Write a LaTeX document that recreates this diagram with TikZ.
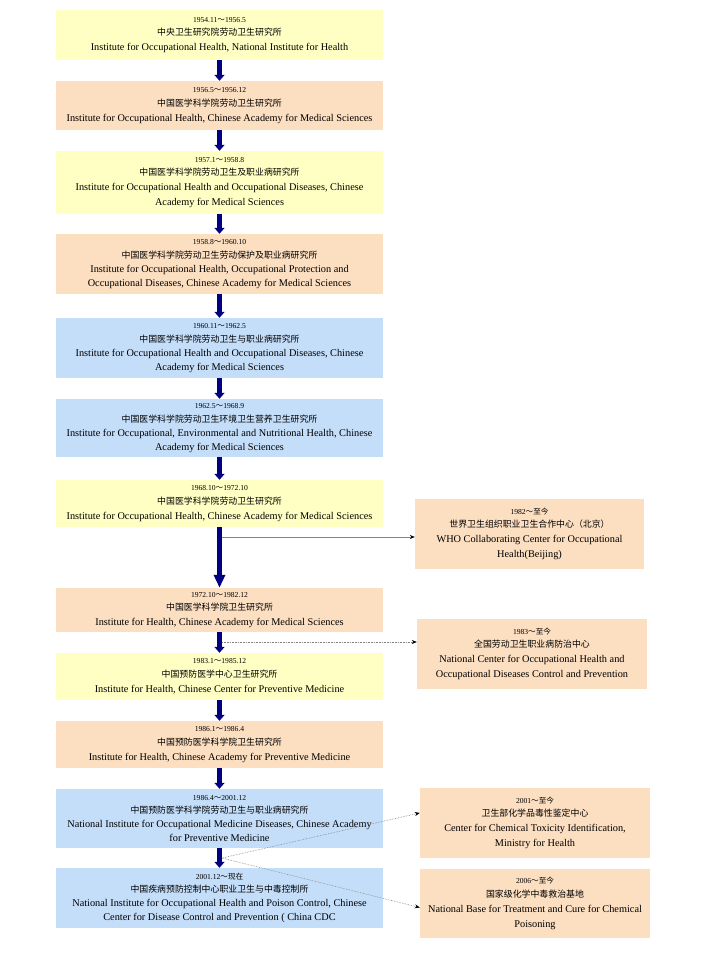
\documentclass[tikz,border=0pt]{standalone}
\usepackage{fontspec}
\setmainfont{Liberation Serif}
\newfontfamily\cjk{Noto Sans CJK SC}
\usetikzlibrary{arrows.meta}
\definecolor{byellow}{RGB}{255,255,196}
\definecolor{bpeach}{RGB}{252,222,192}
\definecolor{bblue}{RGB}{196,222,250}
\definecolor{navyarrow}{RGB}{0,0,128}
\definecolor{linkgray}{RGB}{130,130,130}
\newcommand{\dateline}[1]{{\fontsize{7.6}{9}\selectfont #1}}
\newcommand{\zh}[1]{{\cjk\fontsize{8.9}{10}\selectfont #1}}
\newcommand{\tl}{{\cjk ～}}
\tikzset{
  box/.style={inner sep=0pt, align=center, font=\fontsize{10.3}{15}\selectfont},
  mainbox/.style={box, minimum width=327pt},
  sidebox/.style={box, minimum width=230pt, minimum height=70pt, fill=bpeach},
  mainarrow/.style={draw=navyarrow, line width=5pt, -{Triangle[width=10pt,length=6pt]}},
  longarrow/.style={draw=navyarrow, line width=5.5pt, -{Triangle[width=11pt,length=13pt]}},
  link/.style={draw=linkgray, line width=0.6pt, -{Stealth[length=5pt,width=4pt,color=black]}},
  dlink/.style={link, densely dotted},
}
\begin{document}
\begin{tikzpicture}[x=1pt,y=-1pt]
\path[use as bounding box, fill=white] (0,0) rectangle (715,958);

\node[mainbox, fill=byellow, minimum height=50pt] (b1) at (219.5,35)
 {\dateline{1954.11\tl 1956.5}\\[-1.5pt]\zh{中央卫生研究院劳动卫生研究所}\\Institute for Occupational Health, National Institute for Health};
\node[mainbox, fill=bpeach, minimum height=49pt] (b2) at (219.5,105.5)
 {\dateline{1956.5\tl 1956.12}\\[-1.5pt]\zh{中国医学科学院劳动卫生研究所}\\Institute for Occupational Health, Chinese Academy for Medical Sciences};
\node[mainbox, fill=byellow, minimum height=63pt] (b3) at (219.5,182.5)
 {\dateline{1957.1\tl 1958.8}\\[-1.5pt]\zh{中国医学科学院劳动卫生及职业病研究所}\\Institute for Occupational Health and Occupational Diseases, Chinese\\Academy for Medical Sciences};
\node[mainbox, fill=bpeach, minimum height=60pt] (b4) at (219.5,264)
 {\dateline{1958.8\tl 1960.10}\\[-1.5pt]\zh{中国医学科学院劳动卫生劳动保护及职业病研究所}\\[-1pt]Institute for Occupational Health, Occupational Protection and\\[-1pt]Occupational Diseases, Chinese Academy for Medical Sciences};
\node[mainbox, fill=bblue, minimum height=60pt] (b5) at (219.5,348)
 {\dateline{1960.11\tl 1962.5}\\[-1.5pt]\zh{中国医学科学院劳动卫生与职业病研究所}\\[-1pt]Institute for Occupational Health and Occupational Diseases, Chinese\\[-1pt]Academy for Medical Sciences};
\node[mainbox, fill=bblue, minimum height=58pt] (b6) at (219.5,428)
 {\dateline{1962.5\tl 1968.9}\\[-1.5pt]\zh{中国医学科学院劳动卫生环境卫生营养卫生研究所}\\[-1pt]Institute for Occupational, Environmental and Nutritional Health, Chinese\\[-1pt]Academy for Medical Sciences};
\node[mainbox, fill=byellow, minimum height=47pt] (b7) at (219.5,503.5)
 {\dateline{1968.10\tl 1972.10}\\[-1.5pt]\zh{中国医学科学院劳动卫生研究所}\\Institute for Occupational Health, Chinese Academy for Medical Sciences};
\node[mainbox, fill=bpeach, minimum height=44pt] (b8) at (219.5,610)
 {\dateline{1972.10\tl 1982.12}\\[-1.5pt]\zh{中国医学科学院卫生研究所}\\Institute for Health, Chinese Academy for Medical Sciences};
\node[mainbox, fill=byellow, minimum height=47pt] (b9) at (219.5,676.5)
 {\dateline{1983.1\tl 1985.12}\\[-1.5pt]\zh{中国预防医学中心卫生研究所}\\Institute for Health, Chinese Center for Preventive Medicine};
\node[mainbox, fill=bpeach, minimum height=47pt] (b10) at (219.5,744.5)
 {\dateline{1986.1\tl 1986.4}\\[-1.5pt]\zh{中国预防医学科学院卫生研究所}\\Institute for Health, Chinese Academy for Preventive Medicine};
\node[mainbox, fill=bblue, minimum height=59pt] (b11) at (219.5,818.5)
 {\dateline{1986.4\tl 2001.12}\\[-1.5pt]\zh{中国预防医学科学院劳动卫生与职业病研究所}\\[-1pt]National Institute for Occupational Medicine Diseases, Chinese Academy\\[-1pt]for Preventive Medicine};
\node[mainbox, fill=bblue, minimum height=60pt] (b12) at (219.5,898)
 {\dateline{2001.12\tl{\cjk 现在}}\\[-1.5pt]\zh{中国疾病预防控制中心职业卫生与中毒控制所}\\[-1pt]National Institute for Occupational Health and Poison Control, Chinese\\[-1pt]Center for Disease Control and Prevention ( China CDC};

\node[sidebox, minimum width=229pt] (who) at (529.5,534)
 {\dateline{1982\tl{\cjk 至今}}\\[-1.5pt]\zh{世界卫生组织职业卫生合作中心（北京）}\\WHO Collaborating Center for Occupational\\Health(Beijing)};
\node[sidebox] (nc) at (532,654)
 {\dateline{1983\tl{\cjk 至今}}\\[-1.5pt]\zh{全国劳动卫生职业病防治中心}\\National Center for Occupational Health and\\Occupational Diseases Control and Prevention};
\node[sidebox] (w2001) at (535,823)
 {\dateline{2001\tl{\cjk 至今}}\\[-1.5pt]\zh{卫生部化学品毒性鉴定中心}\\Center for Chemical Toxicity Identification,\\Ministry for Health};
\node[sidebox, minimum height=69pt] (w2006) at (535,903.5)
 {\dateline{2006\tl{\cjk 至今}}\\[-1.5pt]\zh{国家级化学中毒救治基地}\\National Base for Treatment and Cure for Chemical\\Poisoning};

\draw[mainarrow] (b1.south) -- (b2.north);
\draw[mainarrow] (b2.south) -- (b3.north);
\draw[mainarrow] (b3.south) -- (b4.north);
\draw[mainarrow] (b4.south) -- (b5.north);
\draw[mainarrow] (b5.south) -- (b6.north);
\draw[mainarrow] (b6.south) -- (b7.north);
\draw[longarrow] (b7.south) -- (b8.north);
\draw[mainarrow] (b8.south) -- (b9.north);
\draw[mainarrow] (b9.south) -- (b10.north);
\draw[mainarrow] (b10.south) -- (b11.north);
\draw[mainarrow] (b11.south) -- (b12.north);

\coordinate (c1) at (222,537);
\coordinate (c2) at (222,642);
\coordinate (c3) at (222,858);
\draw[link] (c1) -- (c1 -| who.west);
\draw[dlink] (c2) -- (c2 -| nc.west);
\draw[dlink] (c3) -- (w2001.175);
\draw[dlink] (c3) -- (w2006.182);
\end{tikzpicture}
\end{document}
